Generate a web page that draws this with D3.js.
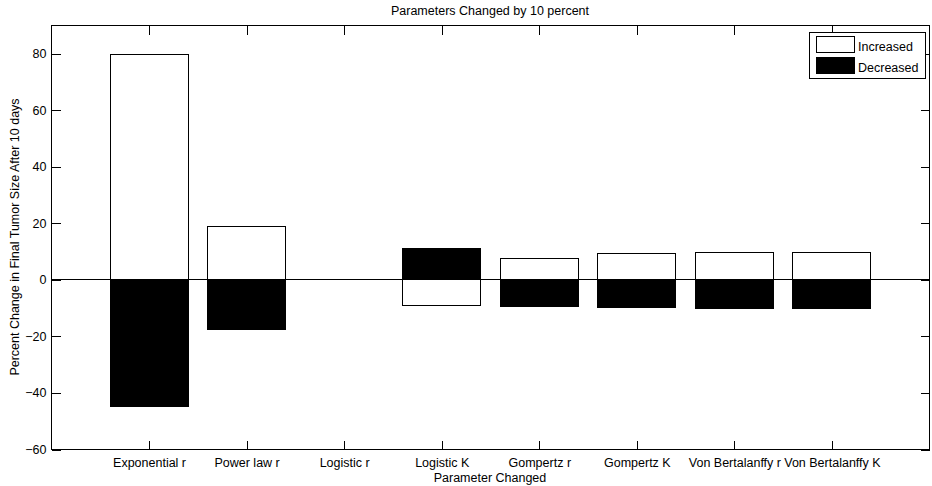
<!DOCTYPE html>
<html>
<head>
<meta charset="utf-8">
<script src="https://cdn.jsdelivr.net/npm/d3@7"></script>
<style>
  html, body { margin: 0; padding: 0; background: #fff; }
  svg { display: block; }
  text { font-family: "Liberation Sans", Arial, Helvetica, sans-serif; font-size: 12.5px; fill: #000; }
</style>
</head>
<body>
<svg id="chart" width="932" height="486"></svg>
<script>
const categories = ["Exponential r", "Power law r", "Logistic r", "Logistic K",
                    "Gompertz r", "Gompertz K", "Von Bertalanffy r", "Von Bertalanffy K"];
const increased = [79.7, 18.9, 0, -9.2, 7.4, 9.2, 9.6, 9.6];
const decreased = [-44.8, -17.4, 0, 11.1, -9.3, -9.7, -10.0, -10.0];
const yTicks = [-60, -40, -20, 0, 20, 40, 60, 80];
const yDomain = [-60, 90];
const titleText = "Parameters Changed by 10 percent";
const xLabelText = "Parameter Changed";
const yLabelText = "Percent Change in Final Tumor Size After 10 days";
const legendLabels = ["Increased", "Decreased"];

const svg = d3.select("#chart");
const L = 51, R = 929, T = 25, B = 449;

const x = d3.scalePoint().domain(categories).range([L, R]).padding(1);
const y = d3.scaleLinear().domain(yDomain).range([B, T]);
const barW = x.step() * 0.8;

const g = svg.append("g").attr("shape-rendering", "crispEdges");

function rect(sel, data, fill, stroke) {
  sel.selectAll(null).data(data).join("rect")
    .attr("x", (d, i) => Math.round(x(categories[i]) - barW / 2) + 0.5)
    .attr("y", d => Math.round(y(Math.max(0, d))) + 0.5)
    .attr("width", Math.round(barW))
    .attr("height", d => Math.abs(Math.round(y(0)) - Math.round(y(d))))
    .attr("fill", fill)
    .attr("stroke", stroke)
    .attr("stroke-width", 1);
}
const gi = g.append("g");
rect(gi, increased, "#fff", "#000");
const gd = g.append("g");
rect(gd, decreased, "#000", "#000");

// baseline at zero
g.append("line")
  .attr("x1", L).attr("x2", R)
  .attr("y1", Math.round(y(0)) + 0.5).attr("y2", Math.round(y(0)) + 0.5)
  .attr("stroke", "#000");

// axes
const xAxis = d3.axisBottom(x).tickSize(-9).tickPadding(9);
g.append("g").attr("transform", `translate(0.5,${B + 0.5})`).call(xAxis);
const xAxisTop = d3.axisTop(x).tickSize(-9).tickFormat("");
g.append("g").attr("transform", `translate(0.5,${T + 0.5})`).call(xAxisTop);

const yAxis = d3.axisLeft(y).tickValues(yTicks).tickSize(-9).tickPadding(5);
g.append("g").attr("transform", `translate(${L + 0.5},0.5)`).call(yAxis);
const yAxisR = d3.axisRight(y).tickValues(yTicks).tickSize(-9).tickFormat("");
g.append("g").attr("transform", `translate(${R + 0.5},0.5)`).call(yAxisR);

g.selectAll(".domain").remove();
g.selectAll(".tick line").attr("stroke", "#000");
g.selectAll(".tick text").attr("font-family", null).attr("font-size", null).attr("fill", "#000");

// frame
g.append("rect")
  .attr("x", L + 0.5).attr("y", T + 0.5)
  .attr("width", R - L).attr("height", B - T)
  .attr("fill", "none").attr("stroke", "#000");

// title and labels
svg.append("text").attr("x", (L + R) / 2).attr("y", 15)
  .attr("text-anchor", "middle").text(titleText);
svg.append("text").attr("x", (L + R) / 2).attr("y", 482)
  .attr("text-anchor", "middle").text(xLabelText);
svg.append("text")
  .attr("transform", `translate(19,${(T + B) / 2}) rotate(-90)`)
  .attr("text-anchor", "middle").text(yLabelText);

// legend
const lg = svg.append("g").attr("shape-rendering", "crispEdges");
lg.append("rect").attr("x", 809.5).attr("y", 32.5).attr("width", 116).attr("height", 46)
  .attr("fill", "#fff").attr("stroke", "#000");
const legFills = ["#fff", "#000"];
legendLabels.forEach((lab, i) => {
  lg.append("rect").attr("x", 816.5).attr("y", 36.5 + i * 21).attr("width", 38).attr("height", 16)
    .attr("fill", legFills[i]).attr("stroke", "#000");
  lg.append("text").attr("x", 858).attr("y", 51 + i * 21).text(lab);
});
</script>
</body>
</html>
